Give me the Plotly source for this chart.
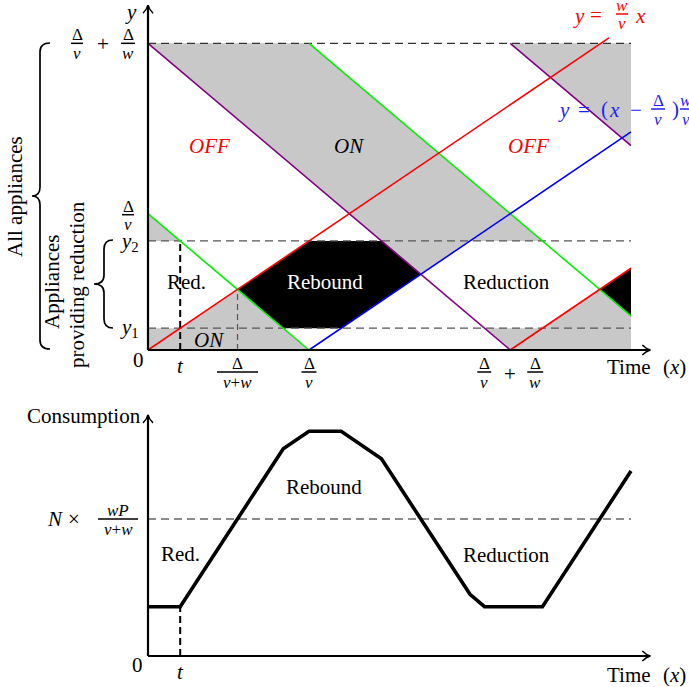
import plotly.graph_objects as go

W, H = 689, 687
SERIF = "Liberation Serif"
FS = 21          # main text size
FF = 17          # fraction part size

# ---------------- top diagram: data (x, y in units of Δ/v) ----------------
DV = 1.0          # Δ/v
DVW = 2.25        # Δ/v + Δ/w
T_RED = 0.2       # t
X_VW = 0.556      # Δ/(v+w)
Y1 = 0.16         # y1
Y2 = 0.8          # y2
X_END = 3.0

# gray areas (appliances ON, as in the natural cycle)
gray_band_x = [0, 1.0, 2.45, 2.0, 1.694, 1.45]
gray_band_y = [2.25, 2.25, 0.8, 0.8, 0.556, 0.8]
gray_topright_x = [2.25, 3.0, 3.0]
gray_topright_y = [2.25, 2.25, 1.5]
gray_topleft_x = [0, 0, 0.2]
gray_topleft_y = [1.0, 0.8, 0.8]
gray_botleft_x = [0, 0, 0.2, 0.556, 1.0]
gray_botleft_y = [0, 0.16, 0.16, 0.444, 0]
gray_botright_x = [2.09, 2.25, 3.0, 3.0, 2.806, 2.45]
gray_botright_y = [0.16, 0, 0, 0.25, 0.444, 0.16]
# black areas (rebound)
black_a_x = [0.556, 1.0, 1.45, 1.694, 1.2, 0.84]
black_a_y = [0.444, 0.8, 0.8, 0.556, 0.16, 0.16]
black_b_x = [2.806, 3.0, 3.0]
black_b_y = [0.444, 0.6, 0.25]

# coloured lines
red_a_x, red_a_y = [0, 2.863], [0, 2.29]
red_b_x, red_b_y = [2.25, 3.0], [0, 0.6]
blue_x, blue_y = [1.0, 3.0], [0, 1.6]
green_a_x, green_a_y = [0, 1.0], [1.0, 0]
green_b_x, green_b_y = [1.0, 3.0], [2.25, 0.25]
purple_a_x, purple_a_y = [0, 2.25], [2.25, 0]
purple_b_x, purple_b_y = [2.25, 3.0], [2.25, 1.5]

# ---------------- bottom diagram: consumption ----------------
cons_x = [0, 0.2, 0.84, 1.0, 1.2, 1.45, 2.0, 2.09, 2.45, 3.0]
cons_y = [0.36, 0.36, 1.512, 1.64, 1.64, 1.44, 0.45, 0.36, 0.36, 1.35]
cons_ref = 1.0          # N x wP/(v+w)

AX_X_END = 3.12
AX_Y_END_TOP = 2.53
AX_Y_END_BOT = 1.76

# ---------------- geometry of the page ----------------
OX, SX = 148, 161.0
OY_T, SY_T, TOP_H = 350, 136.3, 390
OY_B, SY_B, BOT_TOP = 656, 137.0, 395


def tx(x):
    return OX + SX * x


def ty(y):
    return OY_T - SY_T * y


def by(y):
    return OY_B - SY_B * y


def pp(x, y):
    return f"{x / W:.5f},{1 - y / H:.5f}"


fig = go.Figure()
shapes, anns = [], []


def poly(xs, ys, color, xa="x", ya="y"):
    fig.add_trace(go.Scatter(x=xs + xs[:1], y=ys + ys[:1], fill="toself", fillcolor=color,
                             mode="lines", line=dict(width=0, color=color),
                             xaxis=xa, yaxis=ya, hoverinfo="skip", showlegend=False))


def line(xs, ys, color, width=1.6, dash=None, xa="x", ya="y"):
    fig.add_trace(go.Scatter(x=xs, y=ys, mode="lines",
                             line=dict(color=color, width=width, dash=dash),
                             xaxis=xa, yaxis=ya, hoverinfo="skip", showlegend=False))


def text(xp, yp, s, size=FS, color="black", angle=0, xanchor="center"):
    anns.append(dict(x=xp / W, y=1 - yp / H, xref="paper", yref="paper", text=s,
                     showarrow=False, textangle=angle, xanchor=xanchor, yanchor="middle",
                     font=dict(size=size, color=color, family=SERIF)))


def hbar(x0, x1, yp, color="black", width=1.5):
    shapes.append(dict(type="line", xref="paper", yref="paper",
                       x0=x0 / W, x1=x1 / W, y0=1 - yp / H, y1=1 - yp / H,
                       line=dict(color=color, width=width)))


def frac(xc, ybar, num, den, barw, size=FF, color="black"):
    text(xc, ybar - 8.5, num, size, color)
    text(xc, ybar + 10, den, size, color)
    hbar(xc - barw / 2, xc + barw / 2, ybar, color)


def path(d, color="black", width=1.5):
    shapes.append(dict(type="path", xref="paper", yref="paper", path=d,
                       line=dict(color=color, width=width)))


def arrow_up(x, y):
    path(f"M{pp(x - 5, y + 8)} Q{pp(x - 1, y + 4)} {pp(x, y)} Q{pp(x + 1, y + 4)} {pp(x + 5, y + 8)}")


def arrow_right(x, y):
    path(f"M{pp(x - 8, y - 5)} Q{pp(x - 4, y - 1)} {pp(x, y)} Q{pp(x - 4, y + 1)} {pp(x - 8, y + 5)}")


def brace(xe, yt, yb, xs, xt, r=9):
    ym = (yt + yb) / 2
    d = (f"M{pp(xe, yt)} Q{pp(xs, yt)} {pp(xs, yt + r)} L{pp(xs, ym - r)} "
         f"Q{pp(xs, ym)} {pp(xt, ym)} Q{pp(xs, ym)} {pp(xs, ym + r)} "
         f"L{pp(xs, yb - r)} Q{pp(xs, yb)} {pp(xe, yb)}")
    path(d, width=1.7)


# ---- top: fills ----
GRAY = "#c8c8c8"
for xs, ys in [(gray_band_x, gray_band_y), (gray_topright_x, gray_topright_y),
               (gray_topleft_x, gray_topleft_y), (gray_botleft_x, gray_botleft_y),
               (gray_botright_x, gray_botright_y)]:
    poly(xs, ys, GRAY)
for xs, ys in [(black_a_x, black_a_y), (black_b_x, black_b_y)]:
    poly(xs, ys, "black")

# ---- top: dashed guides ----
line([0, X_END], [DVW, DVW], "#333333", 1.3, "8px,5px")
line([0, X_END], [Y2, Y2], "#555555", 1.3, "8px,5px")
line([0, X_END], [Y1, Y1], "#555555", 1.3, "8px,5px")
line([T_RED, T_RED], [0, Y2], "black", 2, "7px,4px")
line([X_VW, X_VW], [0, 0.444], "#555555", 1.2, "6px,4px")

# ---- top: coloured lines ----
line(green_a_x, green_a_y, "#00f000")
line(green_b_x, green_b_y, "#00f000")
line(purple_a_x, purple_a_y, "#800080")
line(purple_b_x, purple_b_y, "#800080")
line(blue_x, blue_y, "#0000ff")
line(red_a_x, red_a_y, "#ff0000")
line(red_b_x, red_b_y, "#ff0000")

# ---- top axes ----
line([0, AX_X_END], [0, 0], "black", 2.2)
line([0, 0], [0, AX_Y_END_TOP], "black", 2.2)
arrow_right(tx(AX_X_END), ty(0))
arrow_up(tx(0), ty(AX_Y_END_TOP))

# ---- bottom diagram ----
line([0, X_END], [cons_ref, cons_ref], "#666666", 1.3, "8px,5px", "x2", "y2")
line([T_RED, T_RED], [0, cons_y[1]], "black", 2, "7px,4px", "x2", "y2")
line(cons_x, cons_y, "black", 3.6, None, "x2", "y2")
line([0, AX_X_END], [0, 0], "black", 2.2, None, "x2", "y2")
line([0, 0], [0, AX_Y_END_BOT], "black", 2.2, None, "x2", "y2")
arrow_right(tx(AX_X_END), by(0))
arrow_up(tx(0), by(AX_Y_END_BOT))

# ---- top texts ----
text(131, 12, "<i>y</i>")
text(629, 367, "Time")
text(674, 367, "(<i>x</i>)")
text(138, 360, "0")
text(tx(T_RED), 366, "<i>t</i>")
frac(tx(X_VW), 372, "Δ", "<i>v</i>+<i>w</i>", 41)
frac(tx(DV), 372, "Δ", "<i>v</i>", 15)
frac(tx(DVW) - 26, 372, "Δ", "<i>v</i>", 14)
text(tx(DVW), 374, "+")
frac(tx(DVW) + 25, 372, "Δ", "<i>w</i>", 16)

frac(77, ty(DVW), "Δ", "<i>v</i>", 12)
text(103, ty(DVW) + 1, "+")
frac(128, ty(DVW), "Δ", "<i>w</i>", 14)
frac(128, ty(DV) + 1, "Δ", "<i>v</i>", 12)
text(129, ty(Y2) + 1, "<i>y</i><sub>2</sub>")
text(129, ty(Y1), "<i>y</i><sub>1</sub>")

text(210, 146, "<i>OFF</i>", color="#ff0000")
text(528, 146, "<i>OFF</i>", color="#ff0000")
text(349, 146, "<i>ON</i>")
text(209, 340, "<i>ON</i>")
text(186, 282, "Red.")
text(325, 282, "Rebound", color="white")
text(507, 282, "Reduction")

# equations
RED = "#ff0000"
text(579, 16, "<i>y</i>", color=RED)
text(596, 15, "=", color=RED)
frac(622, 14, "<i>w</i>", "<i>v</i>", 12, color=RED)
text(640, 16, "<i>x</i>", color=RED)
BLUE = "#2020ff"
text(564, 110, "<i>y</i>", color=BLUE)
text(584, 110, "=", color=BLUE)
text(604, 109, "(", color=BLUE)
text(614, 110, "<i>x</i>", color=BLUE)
text(636, 110, "−", color=BLUE)
frac(658, 109, "Δ", "<i>v</i>", 14, color=BLUE)
text(675, 109, ")", color=BLUE)
frac(686, 109, "<i>w</i>", "<i>v</i>", 12, color=BLUE)

# braces
brace(50, 43, 349, 40, 32)
brace(113, 240, 328, 104, 94)
text(15, 197, "All appliances", angle=-90)
text(52, 282, "Appliances", angle=-90)
text(77, 285, "providing reduction", angle=-90)

# ---- bottom texts ----
text(84, 416, "Consumption")
text(137, 665, "0")
text(tx(T_RED), 672, "<i>t</i>")
text(629, 675, "Time")
text(674, 675, "(<i>x</i>)")
text(55, by(cons_ref), "<i>N</i>")
text(74, by(cons_ref), "×")
frac(118, by(cons_ref), "<i>wP</i>", "<i>v</i>+<i>w</i>", 40)
text(180, 554, "Red.")
text(324, 487, "Rebound")
text(507, 555, "Reduction")

xr = [-OX / SX, (W - OX) / SX]
fig.update_layout(
    width=W, height=H, margin=dict(l=0, r=0, t=0, b=0),
    paper_bgcolor="white", plot_bgcolor="white",
    font=dict(family=SERIF, size=FS, color="black"),
    showlegend=False, hovermode=False,
    xaxis=dict(domain=[0, 1], range=xr, visible=False, anchor="y"),
    yaxis=dict(domain=[1 - TOP_H / H, 1], range=[(OY_T - TOP_H) / SY_T, OY_T / SY_T],
               visible=False, anchor="x"),
    xaxis2=dict(domain=[0, 1], range=xr, visible=False, anchor="y2"),
    yaxis2=dict(domain=[0, 1 - BOT_TOP / H], range=[(OY_B - H) / SY_B, (OY_B - BOT_TOP) / SY_B],
                visible=False, anchor="x2"),
    shapes=shapes, annotations=anns,
)
fig.write_html("out.html", config={"displayModeBar": False},
               post_script="document.body.style.margin='0px';document.body.style.overflow='hidden';")
